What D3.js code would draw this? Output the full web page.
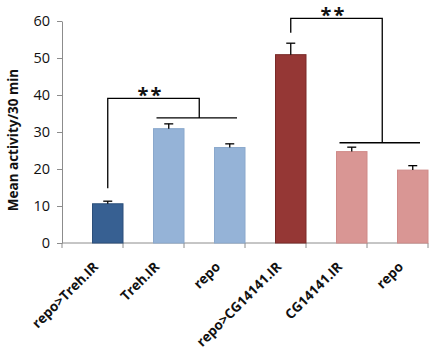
<!DOCTYPE html>
<html><head><meta charset="utf-8">
<script src="https://cdn.jsdelivr.net/npm/d3@7"></script>
<style>body{margin:0;background:#fff}svg{display:block}</style>
</head><body>
<svg id="c" width="431" height="355"></svg>
<script>
const categories = ["repo>Treh.IR","Treh.IR","repo","repo>CG14141.IR","CG14141.IR","repo"];
const means = [10.6, 30.9, 25.8, 50.9, 24.7, 19.7];
const errors = [0.7, 1.3, 1.0, 3.1, 1.2, 1.2];
const colors = ["#376092","#95b3d7","#95b3d7","#953735","#d99694","#d99694"];
const strokes = ["#2c4f7a","#8aa8cc","#8aa8cc","#7a2a28","#cf8a88","#cf8a88"];
const yTicks = [0,10,20,30,40,50,60];
const yTitle = "Mean activity/30 min";
// significance brackets
const sigLabels = ["**","**"];
const sigFrom = [0, 3];
const sigGroupStart = [1, 4];
const sigGroupEnd = [2, 5];
const sigLow = [14.8, 56.8];
const sigTop = [39.1, 60.7];
const sigGroupVal = [33.8, 27.1];

const svg = d3.select("#c");
const L = 62, R = 428, T = 21, B = 243;
const x = d3.scaleBand().domain(d3.range(categories.length)).range([L, R]).padding(0);
const y = d3.scaleLinear().domain([0, 60]).range([B, T]);
const bw = x.bandwidth();
const barX = i => x(i) + bw * 0.5;
const barW = bw * 0.5;
const cx = i => barX(i) + barW / 2;
const font = "'Open Sans', 'Liberation Sans', sans-serif";

// y axis
const ya = svg.append("g").attr("transform", `translate(${L},0)`)
  .call(d3.axisLeft(y).tickValues(yTicks).tickSize(5).tickSizeOuter(0).tickPadding(7));
ya.select(".domain").attr("stroke", "#8c8c8c");
ya.selectAll(".tick line").attr("stroke", "#8c8c8c");
ya.selectAll(".tick text").attr("font-family", font).attr("font-size", 14.5).attr("fill", "#111");

// x axis
const xa = svg.append("g").attr("transform", `translate(0,${B})`);
xa.append("line").attr("x1", L).attr("x2", R).attr("stroke", "#8c8c8c");
const tickXs = d3.range(categories.length + 1).map(i => i < categories.length ? x(i) : x(categories.length - 1) + bw);
xa.selectAll("line.t").data(tickXs).join("line").attr("class", "t")
  .attr("x1", d => d).attr("x2", d => d).attr("y1", 0).attr("y2", 5).attr("stroke", "#8c8c8c");

// bars
svg.selectAll("rect.bar").data(means).join("rect").attr("class", "bar")
  .attr("x", (d, i) => barX(i)).attr("width", barW)
  .attr("y", d => y(d)).attr("height", d => B - y(d))
  .attr("fill", (d, i) => colors[i]).attr("stroke", (d, i) => strokes[i]).attr("stroke-width", 1);

// error bars
const eb = svg.append("g").attr("stroke", "#000").attr("stroke-width", 1.3);
means.forEach((m, i) => {
  eb.append("line").attr("x1", cx(i)).attr("x2", cx(i)).attr("y1", y(m)).attr("y2", y(m + errors[i]));
  eb.append("line").attr("x1", cx(i) - 4.5).attr("x2", cx(i) + 4.5).attr("y1", y(m + errors[i])).attr("y2", y(m + errors[i]));
});

// x labels
svg.selectAll("text.xl").data(categories).join("text").attr("class", "xl")
  .attr("transform", (d, i) => `translate(${x(i) + bw / 2},${B + 18}) rotate(-45)`)
  .attr("text-anchor", "end").attr("dy", "0.7em")
  .attr("font-family", font).attr("font-weight", "bold").attr("font-size", 13.5).attr("fill", "#111")
  .text(d => d);

// y title
svg.append("text").attr("transform", `translate(18,${(T + B) / 2 + 8}) rotate(-90)`)
  .attr("text-anchor", "middle").attr("font-family", font).attr("font-weight", "bold")
  .attr("font-size", 13.5).attr("fill", "#111").text(yTitle);

// significance brackets
const sg = svg.append("g").attr("stroke", "#000").attr("stroke-width", 1.3).attr("fill", "none");
sigLabels.forEach((lab, k) => {
  const xf = cx(sigFrom[k]);
  const gs = barX(sigGroupStart[k]) + 3;
  const ge = barX(sigGroupEnd[k]) + barW - 8;
  const xm = (cx(sigGroupStart[k]) + cx(sigGroupEnd[k])) / 2;
  sg.append("polyline").attr("points", [[xf, y(sigLow[k])], [xf, y(sigTop[k])], [xm, y(sigTop[k])], [xm, y(sigGroupVal[k])]].map(p => p.join(",")).join(" "));
  sg.append("line").attr("x1", gs).attr("x2", ge).attr("y1", y(sigGroupVal[k])).attr("y2", y(sigGroupVal[k]));
  svg.append("text").attr("x", (xf + xm) / 2 - 3).attr("y", y(sigTop[k]) + 4)
    .attr("text-anchor", "middle").attr("font-family", font).attr("font-weight", "bold")
    .attr("letter-spacing", 2)
    .attr("font-size", 20).attr("fill", "#111").text(lab);
});
</script>
</body></html>
